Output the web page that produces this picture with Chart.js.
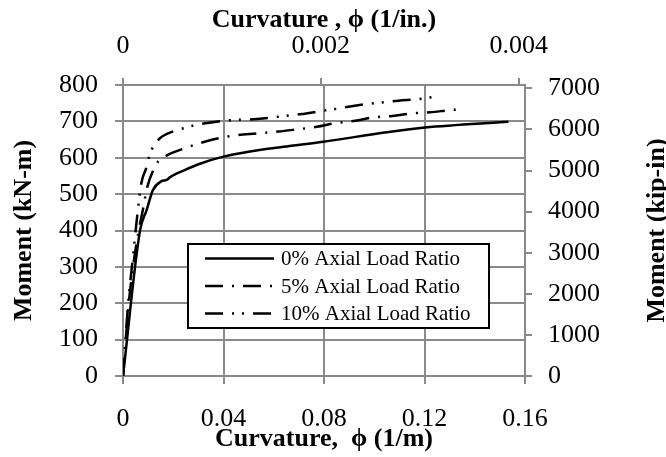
<!DOCTYPE html>
<html>
<head>
<meta charset="utf-8">
<script src="https://cdn.jsdelivr.net/npm/chart.js@4.4.0/dist/chart.umd.min.js"></script>
<style>
  html, body { margin: 0; padding: 0; background: #fff; }
  canvas { display: block; }
</style>
</head>
<body>
<canvas id="momentChart" width="666" height="457"></canvas>
<script>
// curvature (1/m) / moment (kN-m)
const curv0 = [0, 0.0068, 0.0094, 0.0119, 0.0152, 0.0174, 0.0186, 0.0245, 0.0312, 0.040, 0.0505, 0.0638, 0.0797, 0.105, 0.1202, 0.1534];
const mom0  = [0, 401, 456, 511, 535, 539, 546, 566, 585, 603, 617, 630, 644, 670, 683, 699];

const curv5 = [0, 0.001, 0.002, 0.004, 0.006, 0.008, 0.0096, 0.012, 0.0139, 0.0179, 0.0245, 0.0325, 0.0431, 0.0537, 0.0618, 0.0691, 0.0771, 0.0844, 0.0924, 0.0997, 0.1072, 0.1149, 0.1222, 0.1302, 0.1339];
const mom5  = [0, 90, 180, 300, 390, 460, 518, 565, 589, 608, 626, 644, 660, 667, 672, 678, 685, 695, 702, 711, 715, 722, 725, 731, 733];

const curv10 = [0, 0.001, 0.002, 0.004, 0.0055, 0.0073, 0.0092, 0.0106, 0.0122, 0.0146, 0.0206, 0.0252, 0.0289, 0.0328, 0.0405, 0.0445, 0.052, 0.0585, 0.0634, 0.0711, 0.0784, 0.0864, 0.0904, 0.0976, 0.1016, 0.1096, 0.1173, 0.1248];
const mom10  = [0, 100, 195, 330, 430, 530, 571, 608, 632, 653, 674, 683, 690, 695, 702, 704, 706, 710, 714, 720, 728, 736, 741, 748, 751, 757, 761, 768];

const seriesLabels = ['0% Axial Load Ratio', '5% Axial Load Ratio', '10% Axial Load Ratio'];

const curvTicks   = [0, 0.04, 0.08, 0.12, 0.16];
const curvInTicks = [0, 0.002, 0.004];
const momTicks    = [0, 100, 200, 300, 400, 500, 600, 700, 800];
const kipTicks    = [0, 1000, 2000, 3000, 4000, 5000, 6000, 7000];

const KNM_TO_KIPIN = 8.8507;
const M_PER_IN = 39.37;

const FONT = '"Liberation Serif", "Times New Roman", serif';
const GRID = '#8a8a8a';

Chart.defaults.font.family = FONT;
Chart.defaults.color = '#000';

function pts(xs, ys) {
  return xs.map((x, i) => ({ x: x, y: ys[i] }));
}

function fixedTicks(list) {
  return function (axis) {
    axis.ticks = list.map(v => ({ value: v }));
  };
}

// legend box + right hand title (reads bottom to top like the left one)
const extras = {
  id: 'extras',
  afterDraw(chart) {
    const ctx = chart.ctx;
    const area = chart.chartArea;

    ctx.save();
    ctx.font = 'bold 26px ' + FONT;
    ctx.fillStyle = '#000';
    ctx.textAlign = 'center';
    ctx.textBaseline = 'middle';
    ctx.translate(657, (area.top + area.bottom) / 2);
    ctx.rotate(-Math.PI / 2);
    ctx.fillText('Moment (kip-in)', 0, 0);
    ctx.restore();

    const bx = 188, by = 244, bw = 301, bh = 84;
    ctx.save();
    ctx.fillStyle = '#fff';
    ctx.fillRect(bx, by, bw, bh);
    ctx.strokeStyle = '#000';
    ctx.lineWidth = 2;
    ctx.strokeRect(bx, by, bw, bh);
    ctx.font = '21px ' + FONT;
    ctx.textBaseline = 'middle';
    ctx.fillStyle = '#000';
    chart.data.datasets.forEach((ds, i) => {
      const y = by + 14.5 + i * 27.5;
      ctx.beginPath();
      ctx.setLineDash(ds.borderDash || []);
      ctx.lineWidth = ds.borderWidth;
      ctx.strokeStyle = ds.borderColor;
      ctx.moveTo(205, y);
      ctx.lineTo(274, y);
      ctx.stroke();
      ctx.setLineDash([]);
      ctx.fillText(ds.label, 281, y + 1);
    });
    ctx.restore();
  }
};

const lineBase = {
  borderColor: '#000',
  borderWidth: 2.5,
  pointRadius: 0,
  fill: false,
  cubicInterpolationMode: 'monotone',
  borderCapStyle: 'butt'
};

new Chart(document.getElementById('momentChart'), {
  type: 'line',
  data: {
    datasets: [
      Object.assign({}, lineBase, { label: seriesLabels[0], data: pts(curv0, mom0) }),
      Object.assign({}, lineBase, { label: seriesLabels[1], data: pts(curv5, mom5), borderDash: [18, 9, 2, 9] }),
      Object.assign({}, lineBase, { label: seriesLabels[2], data: pts(curv10, mom10), borderDash: [18, 9, 2, 8, 2, 9] })
    ]
  },
  options: {
    responsive: false,
    animation: false,
    layout: { padding: 0 },
    plugins: {
      legend: { display: false },
      tooltip: { enabled: false }
    },
    scales: {
      x: {
        type: 'linear',
        position: 'bottom',
        min: 0,
        max: 0.16,
        afterBuildTicks: fixedTicks(curvTicks),
        afterFit: s => { s.height = 81; },
        grid: { color: GRID, lineWidth: 2, tickLength: 8 },
        border: { color: GRID, width: 2 },
        ticks: { font: { size: 26 }, padding: 20, maxRotation: 0, callback: v => String(v) },
        title: {
          display: true,
          text: 'Curvature,  \u03D5 (1/m)',
          font: { size: 26, weight: 'bold' },
          padding: { top: 0, bottom: 2 }
        }
      },
      x2: {
        type: 'linear',
        position: 'top',
        min: 0,
        max: 0.16 / M_PER_IN,
        afterBuildTicks: fixedTicks(curvInTicks),
        afterFit: s => { s.height = 85; },
        grid: { drawOnChartArea: false, color: GRID, lineWidth: 2, tickLength: 7 },
        border: { color: GRID, width: 2 },
        ticks: { font: { size: 26 }, padding: 16, maxRotation: 0, callback: v => String(v) },
        title: {
          display: true,
          text: 'Curvature , \u03D5 (1/in.)',
          font: { size: 26, weight: 'bold' },
          padding: { top: 5, bottom: 0 }
        }
      },
      y: {
        type: 'linear',
        position: 'left',
        min: 0,
        max: 800,
        afterBuildTicks: fixedTicks(momTicks),
        afterFit: s => { s.width = 123; },
        grid: { color: GRID, lineWidth: 2, tickLength: 8 },
        border: { color: GRID, width: 2 },
        ticks: { font: { size: 26 }, padding: 17, callback: v => String(v) },
        title: {
          display: true,
          text: 'Moment (kN-m)',
          font: { size: 26, weight: 'bold' },
          padding: { top: 9, bottom: 0 }
        }
      },
      y2: {
        type: 'linear',
        position: 'right',
        min: 0,
        max: 800 * KNM_TO_KIPIN,
        afterBuildTicks: fixedTicks(kipTicks),
        afterFit: s => { s.width = 141; },
        grid: { drawOnChartArea: false, color: GRID, lineWidth: 2, tickLength: 7 },
        border: { color: GRID, width: 2 },
        ticks: { font: { size: 26 }, padding: 16, callback: v => String(v) }
      }
    }
  },
  plugins: [extras]
});
</script>
</body>
</html>
